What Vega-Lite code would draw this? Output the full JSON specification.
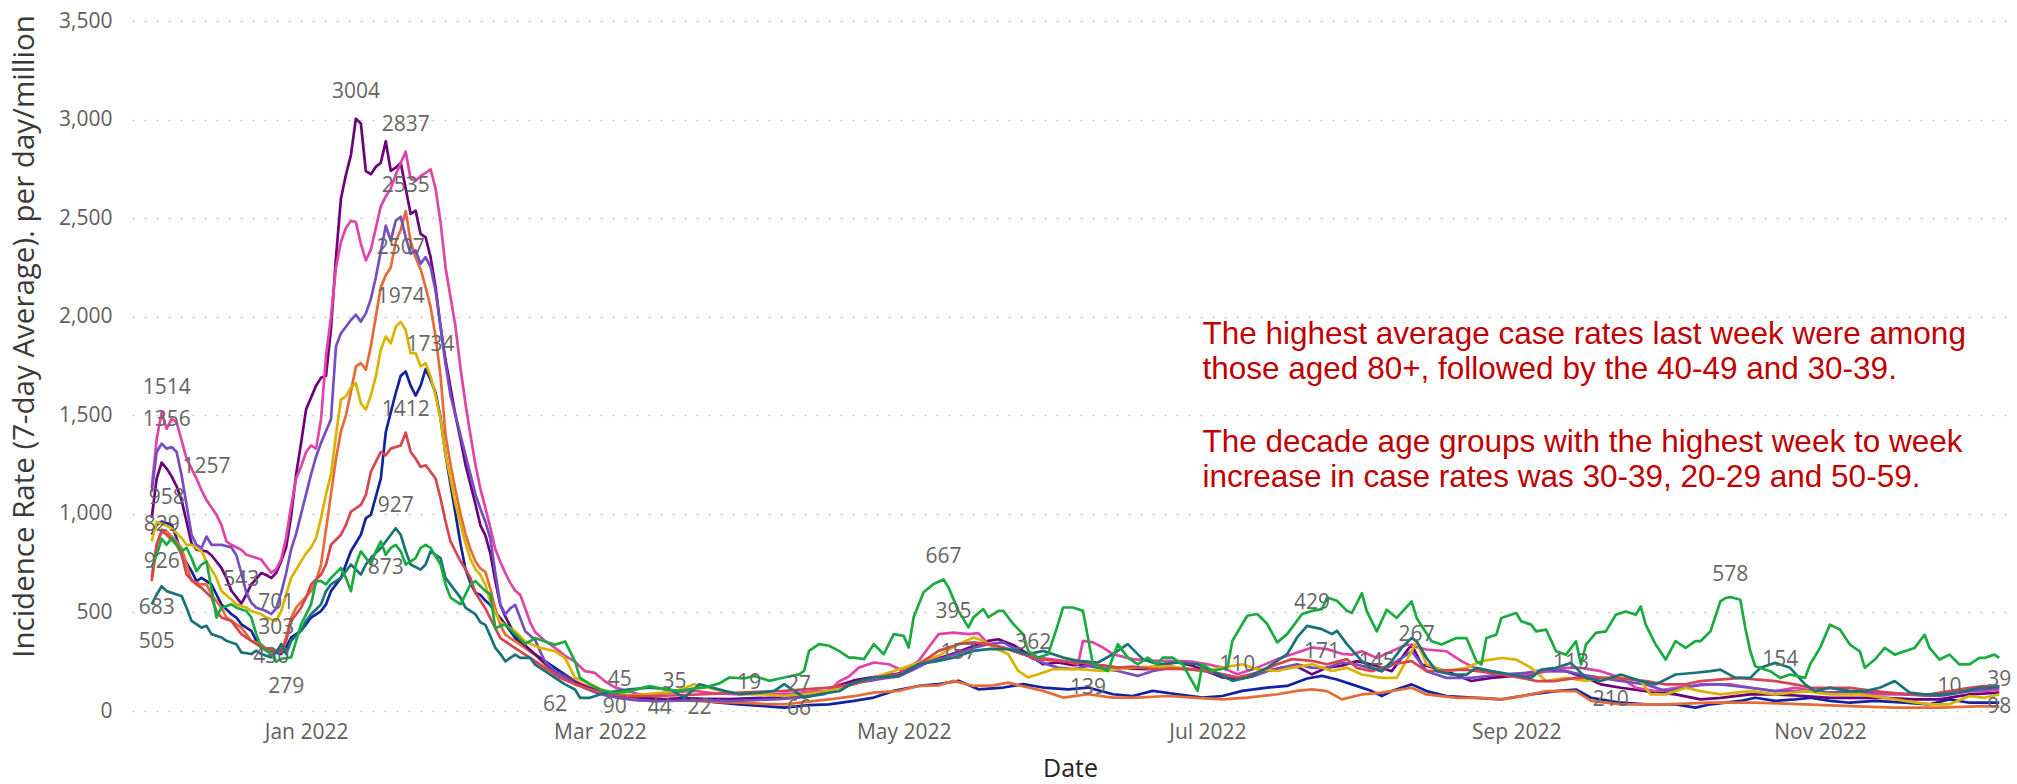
{
"$schema":"https://vega.github.io/schema/vega-lite/v6.json",
"width":1876,"height":690,
"autosize":{"type":"none"},
"padding":{"left":132,"top":21,"right":9,"bottom":73},
"background":"white",
"config":{"view":{"stroke":null},"font":"Open Sans"},
"datasets":{
"series":[
{"g":"0-9","t":"2021-12-01","v":894},{"g":"0-9","t":"2021-12-02","v":944},{"g":"0-9","t":"2021-12-03","v":961},{"g":"0-9","t":"2021-12-05","v":944},{"g":"0-9","t":"2021-12-06","v":877},{"g":"0-9","t":"2021-12-07","v":793},{"g":"0-9","t":"2021-12-09","v":709},{"g":"0-9","t":"2021-12-10","v":659},{"g":"0-9","t":"2021-12-11","v":675},{"g":"0-9","t":"2021-12-13","v":642},{"g":"0-9","t":"2021-12-14","v":591},{"g":"0-9","t":"2021-12-15","v":541},{"g":"0-9","t":"2021-12-17","v":491},{"g":"0-9","t":"2021-12-18","v":474},{"g":"0-9","t":"2021-12-19","v":440},{"g":"0-9","t":"2021-12-21","v":407},{"g":"0-9","t":"2021-12-22","v":356},{"g":"0-9","t":"2021-12-23","v":323},{"g":"0-9","t":"2021-12-25","v":306},{"g":"0-9","t":"2021-12-26","v":297},{"g":"0-9","t":"2021-12-27","v":289},{"g":"0-9","t":"2021-12-28","v":323},{"g":"0-9","t":"2021-12-29","v":373},{"g":"0-9","t":"2021-12-31","v":407},{"g":"0-9","t":"2022-01-01","v":440},{"g":"0-9","t":"2022-01-02","v":474},{"g":"0-9","t":"2022-01-04","v":507},{"g":"0-9","t":"2022-01-05","v":541},{"g":"0-9","t":"2022-01-06","v":608},{"g":"0-9","t":"2022-01-08","v":675},{"g":"0-9","t":"2022-01-09","v":743},{"g":"0-9","t":"2022-01-10","v":810},{"g":"0-9","t":"2022-01-12","v":894},{"g":"0-9","t":"2022-01-13","v":978},{"g":"0-9","t":"2022-01-14","v":995},{"g":"0-9","t":"2022-01-16","v":1179},{"g":"0-9","t":"2022-01-17","v":1414},{"g":"0-9","t":"2022-01-18","v":1515},{"g":"0-9","t":"2022-01-19","v":1613},{"g":"0-9","t":"2022-01-20","v":1700},{"g":"0-9","t":"2022-01-21","v":1722},{"g":"0-9","t":"2022-01-22","v":1650},{"g":"0-9","t":"2022-01-23","v":1600},{"g":"0-9","t":"2022-01-24","v":1650},{"g":"0-9","t":"2022-01-25","v":1734},{"g":"0-9","t":"2022-01-26","v":1680},{"g":"0-9","t":"2022-01-27","v":1613},{"g":"0-9","t":"2022-01-28","v":1487},{"g":"0-9","t":"2022-01-29","v":1300},{"g":"0-9","t":"2022-01-30","v":1150},{"g":"0-9","t":"2022-01-31","v":1000},{"g":"0-9","t":"2022-02-01","v":850},{"g":"0-9","t":"2022-02-02","v":720},{"g":"0-9","t":"2022-02-03","v":650},{"g":"0-9","t":"2022-02-04","v":600},{"g":"0-9","t":"2022-02-05","v":589},{"g":"0-9","t":"2022-02-06","v":560},{"g":"0-9","t":"2022-02-07","v":538},{"g":"0-9","t":"2022-02-08","v":500},{"g":"0-9","t":"2022-02-09","v":471},{"g":"0-9","t":"2022-02-10","v":440},{"g":"0-9","t":"2022-02-12","v":370},{"g":"0-9","t":"2022-02-14","v":320},{"g":"0-9","t":"2022-02-17","v":269},{"g":"0-9","t":"2022-02-20","v":219},{"g":"0-9","t":"2022-02-22","v":185},{"g":"0-9","t":"2022-02-25","v":135},{"g":"0-9","t":"2022-02-28","v":100},{"g":"0-9","t":"2022-03-03","v":80},{"g":"0-9","t":"2022-03-06","v":65},{"g":"0-9","t":"2022-03-09","v":55},{"g":"0-9","t":"2022-03-12","v":51},{"g":"0-9","t":"2022-03-16","v":55},{"g":"0-9","t":"2022-03-20","v":59},{"g":"0-9","t":"2022-03-24","v":45},{"g":"0-9","t":"2022-03-29","v":34},{"g":"0-9","t":"2022-04-03","v":25},{"g":"0-9","t":"2022-04-07","v":17},{"g":"0-9","t":"2022-04-12","v":30},{"g":"0-9","t":"2022-04-16","v":34},{"g":"0-9","t":"2022-04-21","v":51},{"g":"0-9","t":"2022-04-25","v":68},{"g":"0-9","t":"2022-04-29","v":102},{"g":"0-9","t":"2022-05-04","v":127},{"g":"0-9","t":"2022-05-08","v":136},{"g":"0-9","t":"2022-05-12","v":153},{"g":"0-9","t":"2022-05-16","v":110},{"g":"0-9","t":"2022-05-21","v":119},{"g":"0-9","t":"2022-05-25","v":136},{"g":"0-9","t":"2022-05-29","v":119},{"g":"0-9","t":"2022-06-03","v":110},{"g":"0-9","t":"2022-06-07","v":119},{"g":"0-9","t":"2022-06-12","v":85},{"g":"0-9","t":"2022-06-16","v":76},{"g":"0-9","t":"2022-06-20","v":102},{"g":"0-9","t":"2022-06-25","v":85},{"g":"0-9","t":"2022-06-30","v":68},{"g":"0-9","t":"2022-07-04","v":76},{"g":"0-9","t":"2022-07-08","v":102},{"g":"0-9","t":"2022-07-13","v":119},{"g":"0-9","t":"2022-07-17","v":127},{"g":"0-9","t":"2022-07-21","v":165},{"g":"0-9","t":"2022-07-24","v":178},{"g":"0-9","t":"2022-07-27","v":160},{"g":"0-9","t":"2022-07-30","v":135},{"g":"0-9","t":"2022-08-03","v":101},{"g":"0-9","t":"2022-08-05","v":76},{"g":"0-9","t":"2022-08-07","v":101},{"g":"0-9","t":"2022-08-11","v":135},{"g":"0-9","t":"2022-08-14","v":101},{"g":"0-9","t":"2022-08-18","v":76},{"g":"0-9","t":"2022-08-24","v":67},{"g":"0-9","t":"2022-08-29","v":59},{"g":"0-9","t":"2022-09-04","v":84},{"g":"0-9","t":"2022-09-09","v":101},{"g":"0-9","t":"2022-09-13","v":109},{"g":"0-9","t":"2022-09-16","v":67},{"g":"0-9","t":"2022-09-22","v":42},{"g":"0-9","t":"2022-09-27","v":34},{"g":"0-9","t":"2022-10-03","v":34},{"g":"0-9","t":"2022-10-07","v":17},{"g":"0-9","t":"2022-10-10","v":34},{"g":"0-9","t":"2022-10-16","v":51},{"g":"0-9","t":"2022-10-19","v":67},{"g":"0-9","t":"2022-10-23","v":51},{"g":"0-9","t":"2022-10-27","v":59},{"g":"0-9","t":"2022-10-30","v":67},{"g":"0-9","t":"2022-11-03","v":51},{"g":"0-9","t":"2022-11-07","v":42},{"g":"0-9","t":"2022-11-12","v":51},{"g":"0-9","t":"2022-11-18","v":42},{"g":"0-9","t":"2022-11-23","v":34},{"g":"0-9","t":"2022-11-27","v":59},{"g":"0-9","t":"2022-12-01","v":42},{"g":"0-9","t":"2022-12-07","v":42},
{"g":"10-19","t":"2021-12-01","v":680},{"g":"10-19","t":"2021-12-02","v":843},{"g":"10-19","t":"2021-12-03","v":920},{"g":"10-19","t":"2021-12-04","v":911},{"g":"10-19","t":"2021-12-06","v":860},{"g":"10-19","t":"2021-12-07","v":827},{"g":"10-19","t":"2021-12-08","v":743},{"g":"10-19","t":"2021-12-09","v":659},{"g":"10-19","t":"2021-12-11","v":642},{"g":"10-19","t":"2021-12-12","v":642},{"g":"10-19","t":"2021-12-13","v":591},{"g":"10-19","t":"2021-12-15","v":524},{"g":"10-19","t":"2021-12-16","v":474},{"g":"10-19","t":"2021-12-17","v":457},{"g":"10-19","t":"2021-12-19","v":423},{"g":"10-19","t":"2021-12-20","v":390},{"g":"10-19","t":"2021-12-21","v":356},{"g":"10-19","t":"2021-12-23","v":339},{"g":"10-19","t":"2021-12-24","v":314},{"g":"10-19","t":"2021-12-26","v":306},{"g":"10-19","t":"2021-12-27","v":306},{"g":"10-19","t":"2021-12-28","v":373},{"g":"10-19","t":"2021-12-29","v":474},{"g":"10-19","t":"2021-12-30","v":524},{"g":"10-19","t":"2022-01-01","v":580},{"g":"10-19","t":"2022-01-02","v":608},{"g":"10-19","t":"2022-01-03","v":659},{"g":"10-19","t":"2022-01-04","v":743},{"g":"10-19","t":"2022-01-05","v":920},{"g":"10-19","t":"2022-01-06","v":1100},{"g":"10-19","t":"2022-01-07","v":1280},{"g":"10-19","t":"2022-01-08","v":1420},{"g":"10-19","t":"2022-01-09","v":1500},{"g":"10-19","t":"2022-01-10","v":1620},{"g":"10-19","t":"2022-01-11","v":1748},{"g":"10-19","t":"2022-01-12","v":1764},{"g":"10-19","t":"2022-01-13","v":1731},{"g":"10-19","t":"2022-01-14","v":1850},{"g":"10-19","t":"2022-01-15","v":2000},{"g":"10-19","t":"2022-01-16","v":2150},{"g":"10-19","t":"2022-01-17","v":2210},{"g":"10-19","t":"2022-01-18","v":2250},{"g":"10-19","t":"2022-01-19","v":2380},{"g":"10-19","t":"2022-01-20","v":2440},{"g":"10-19","t":"2022-01-21","v":2535},{"g":"10-19","t":"2022-01-22","v":2380},{"g":"10-19","t":"2022-01-23","v":2300},{"g":"10-19","t":"2022-01-24","v":2240},{"g":"10-19","t":"2022-01-25","v":2150},{"g":"10-19","t":"2022-01-26","v":2050},{"g":"10-19","t":"2022-01-27","v":1900},{"g":"10-19","t":"2022-01-28","v":1700},{"g":"10-19","t":"2022-01-29","v":1400},{"g":"10-19","t":"2022-01-30","v":1250},{"g":"10-19","t":"2022-01-31","v":1120},{"g":"10-19","t":"2022-02-01","v":1000},{"g":"10-19","t":"2022-02-02","v":900},{"g":"10-19","t":"2022-02-03","v":820},{"g":"10-19","t":"2022-02-04","v":760},{"g":"10-19","t":"2022-02-05","v":723},{"g":"10-19","t":"2022-02-06","v":706},{"g":"10-19","t":"2022-02-07","v":620},{"g":"10-19","t":"2022-02-08","v":520},{"g":"10-19","t":"2022-02-09","v":437},{"g":"10-19","t":"2022-02-10","v":387},{"g":"10-19","t":"2022-02-12","v":353},{"g":"10-19","t":"2022-02-14","v":320},{"g":"10-19","t":"2022-02-16","v":286},{"g":"10-19","t":"2022-02-18","v":235},{"g":"10-19","t":"2022-02-20","v":200},{"g":"10-19","t":"2022-02-22","v":175},{"g":"10-19","t":"2022-02-24","v":151},{"g":"10-19","t":"2022-02-26","v":130},{"g":"10-19","t":"2022-02-28","v":110},{"g":"10-19","t":"2022-03-02","v":95},{"g":"10-19","t":"2022-03-05","v":80},{"g":"10-19","t":"2022-03-08","v":65},{"g":"10-19","t":"2022-03-11","v":59},{"g":"10-19","t":"2022-03-15","v":55},{"g":"10-19","t":"2022-03-20","v":51},{"g":"10-19","t":"2022-03-25","v":45},{"g":"10-19","t":"2022-03-29","v":42},{"g":"10-19","t":"2022-04-03","v":36},{"g":"10-19","t":"2022-04-07","v":34},{"g":"10-19","t":"2022-04-11","v":45},{"g":"10-19","t":"2022-04-16","v":59},{"g":"10-19","t":"2022-04-21","v":75},{"g":"10-19","t":"2022-04-25","v":93},{"g":"10-19","t":"2022-04-30","v":102},{"g":"10-19","t":"2022-05-04","v":127},{"g":"10-19","t":"2022-05-08","v":130},{"g":"10-19","t":"2022-05-11","v":153},{"g":"10-19","t":"2022-05-15","v":127},{"g":"10-19","t":"2022-05-19","v":130},{"g":"10-19","t":"2022-05-22","v":144},{"g":"10-19","t":"2022-05-26","v":119},{"g":"10-19","t":"2022-05-29","v":102},{"g":"10-19","t":"2022-06-02","v":68},{"g":"10-19","t":"2022-06-07","v":85},{"g":"10-19","t":"2022-06-12","v":68},{"g":"10-19","t":"2022-06-17","v":68},{"g":"10-19","t":"2022-06-23","v":76},{"g":"10-19","t":"2022-06-28","v":68},{"g":"10-19","t":"2022-07-04","v":59},{"g":"10-19","t":"2022-07-09","v":68},{"g":"10-19","t":"2022-07-15","v":85},{"g":"10-19","t":"2022-07-19","v":102},{"g":"10-19","t":"2022-07-22","v":110},{"g":"10-19","t":"2022-07-25","v":101},{"g":"10-19","t":"2022-07-28","v":59},{"g":"10-19","t":"2022-08-01","v":84},{"g":"10-19","t":"2022-08-05","v":93},{"g":"10-19","t":"2022-08-11","v":118},{"g":"10-19","t":"2022-08-14","v":84},{"g":"10-19","t":"2022-08-20","v":67},{"g":"10-19","t":"2022-08-25","v":67},{"g":"10-19","t":"2022-08-29","v":59},{"g":"10-19","t":"2022-09-04","v":84},{"g":"10-19","t":"2022-09-07","v":101},{"g":"10-19","t":"2022-09-13","v":101},{"g":"10-19","t":"2022-09-16","v":51},{"g":"10-19","t":"2022-09-22","v":34},{"g":"10-19","t":"2022-10-01","v":34},{"g":"10-19","t":"2022-10-10","v":42},{"g":"10-19","t":"2022-10-19","v":42},{"g":"10-19","t":"2022-10-29","v":34},{"g":"10-19","t":"2022-11-07","v":25},{"g":"10-19","t":"2022-11-16","v":17},{"g":"10-19","t":"2022-11-25","v":17},{"g":"10-19","t":"2022-12-04","v":25},{"g":"10-19","t":"2022-12-07","v":22},
{"g":"20-29","t":"2021-12-01","v":980},{"g":"20-29","t":"2021-12-02","v":1180},{"g":"20-29","t":"2021-12-03","v":1260},{"g":"20-29","t":"2021-12-04","v":1230},{"g":"20-29","t":"2021-12-05","v":1190},{"g":"20-29","t":"2021-12-06","v":1140},{"g":"20-29","t":"2021-12-07","v":1070},{"g":"20-29","t":"2021-12-08","v":960},{"g":"20-29","t":"2021-12-09","v":850},{"g":"20-29","t":"2021-12-10","v":818},{"g":"20-29","t":"2021-12-12","v":810},{"g":"20-29","t":"2021-12-13","v":790},{"g":"20-29","t":"2021-12-15","v":726},{"g":"20-29","t":"2021-12-16","v":675},{"g":"20-29","t":"2021-12-17","v":610},{"g":"20-29","t":"2021-12-19","v":545},{"g":"20-29","t":"2021-12-20","v":591},{"g":"20-29","t":"2021-12-21","v":642},{"g":"20-29","t":"2021-12-22","v":670},{"g":"20-29","t":"2021-12-23","v":700},{"g":"20-29","t":"2021-12-24","v":690},{"g":"20-29","t":"2021-12-25","v":675},{"g":"20-29","t":"2021-12-26","v":700},{"g":"20-29","t":"2021-12-27","v":760},{"g":"20-29","t":"2021-12-28","v":830},{"g":"20-29","t":"2021-12-29","v":990},{"g":"20-29","t":"2021-12-30","v":1200},{"g":"20-29","t":"2021-12-31","v":1360},{"g":"20-29","t":"2022-01-01","v":1530},{"g":"20-29","t":"2022-01-02","v":1590},{"g":"20-29","t":"2022-01-03","v":1650},{"g":"20-29","t":"2022-01-04","v":1690},{"g":"20-29","t":"2022-01-05","v":1700},{"g":"20-29","t":"2022-01-06","v":1940},{"g":"20-29","t":"2022-01-07","v":2300},{"g":"20-29","t":"2022-01-08","v":2600},{"g":"20-29","t":"2022-01-09","v":2720},{"g":"20-29","t":"2022-01-10","v":2820},{"g":"20-29","t":"2022-01-11","v":3004},{"g":"20-29","t":"2022-01-12","v":2980},{"g":"20-29","t":"2022-01-13","v":2739},{"g":"20-29","t":"2022-01-14","v":2723},{"g":"20-29","t":"2022-01-15","v":2760},{"g":"20-29","t":"2022-01-16","v":2781},{"g":"20-29","t":"2022-01-17","v":2890},{"g":"20-29","t":"2022-01-18","v":2740},{"g":"20-29","t":"2022-01-19","v":2756},{"g":"20-29","t":"2022-01-20","v":2781},{"g":"20-29","t":"2022-01-21","v":2650},{"g":"20-29","t":"2022-01-22","v":2521},{"g":"20-29","t":"2022-01-23","v":2538},{"g":"20-29","t":"2022-01-24","v":2420},{"g":"20-29","t":"2022-01-25","v":2403},{"g":"20-29","t":"2022-01-26","v":2302},{"g":"20-29","t":"2022-01-27","v":2150},{"g":"20-29","t":"2022-01-28","v":1950},{"g":"20-29","t":"2022-01-29","v":1780},{"g":"20-29","t":"2022-01-30","v":1640},{"g":"20-29","t":"2022-01-31","v":1500},{"g":"20-29","t":"2022-02-01","v":1380},{"g":"20-29","t":"2022-02-02","v":1250},{"g":"20-29","t":"2022-02-03","v":1150},{"g":"20-29","t":"2022-02-04","v":1050},{"g":"20-29","t":"2022-02-05","v":942},{"g":"20-29","t":"2022-02-06","v":891},{"g":"20-29","t":"2022-02-07","v":800},{"g":"20-29","t":"2022-02-08","v":660},{"g":"20-29","t":"2022-02-09","v":538},{"g":"20-29","t":"2022-02-10","v":480},{"g":"20-29","t":"2022-02-11","v":430},{"g":"20-29","t":"2022-02-12","v":390},{"g":"20-29","t":"2022-02-13","v":355},{"g":"20-29","t":"2022-02-15","v":310},{"g":"20-29","t":"2022-02-17","v":265},{"g":"20-29","t":"2022-02-19","v":220},{"g":"20-29","t":"2022-02-21","v":185},{"g":"20-29","t":"2022-02-23","v":160},{"g":"20-29","t":"2022-02-25","v":135},{"g":"20-29","t":"2022-02-27","v":115},{"g":"20-29","t":"2022-03-01","v":100},{"g":"20-29","t":"2022-03-04","v":85},{"g":"20-29","t":"2022-03-07","v":75},{"g":"20-29","t":"2022-03-10","v":65},{"g":"20-29","t":"2022-03-14","v":60},{"g":"20-29","t":"2022-03-18","v":65},{"g":"20-29","t":"2022-03-22","v":62},{"g":"20-29","t":"2022-03-27","v":60},{"g":"20-29","t":"2022-04-01","v":65},{"g":"20-29","t":"2022-04-06","v":68},{"g":"20-29","t":"2022-04-11","v":75},{"g":"20-29","t":"2022-04-15","v":90},{"g":"20-29","t":"2022-04-18","v":130},{"g":"20-29","t":"2022-04-21","v":155},{"g":"20-29","t":"2022-04-24","v":168},{"g":"20-29","t":"2022-04-27","v":180},{"g":"20-29","t":"2022-04-30","v":190},{"g":"20-29","t":"2022-05-03","v":225},{"g":"20-29","t":"2022-05-06","v":255},{"g":"20-29","t":"2022-05-09","v":275},{"g":"20-29","t":"2022-05-12","v":300},{"g":"20-29","t":"2022-05-15","v":330},{"g":"20-29","t":"2022-05-18","v":356},{"g":"20-29","t":"2022-05-20","v":364},{"g":"20-29","t":"2022-05-23","v":335},{"g":"20-29","t":"2022-05-26","v":288},{"g":"20-29","t":"2022-05-29","v":237},{"g":"20-29","t":"2022-06-01","v":246},{"g":"20-29","t":"2022-06-04","v":232},{"g":"20-29","t":"2022-06-07","v":237},{"g":"20-29","t":"2022-06-10","v":230},{"g":"20-29","t":"2022-06-13","v":220},{"g":"20-29","t":"2022-06-16","v":215},{"g":"20-29","t":"2022-06-19","v":212},{"g":"20-29","t":"2022-06-22","v":237},{"g":"20-29","t":"2022-06-25","v":246},{"g":"20-29","t":"2022-06-28","v":230},{"g":"20-29","t":"2022-07-01","v":200},{"g":"20-29","t":"2022-07-04","v":170},{"g":"20-29","t":"2022-07-07","v":161},{"g":"20-29","t":"2022-07-10","v":175},{"g":"20-29","t":"2022-07-13","v":203},{"g":"20-29","t":"2022-07-16","v":220},{"g":"20-29","t":"2022-07-19","v":225},{"g":"20-29","t":"2022-07-22","v":186},{"g":"20-29","t":"2022-07-25","v":220},{"g":"20-29","t":"2022-07-28","v":230},{"g":"20-29","t":"2022-07-31","v":253},{"g":"20-29","t":"2022-08-03","v":236},{"g":"20-29","t":"2022-08-07","v":202},{"g":"20-29","t":"2022-08-11","v":337},{"g":"20-29","t":"2022-08-13","v":236},{"g":"20-29","t":"2022-08-18","v":202},{"g":"20-29","t":"2022-08-23","v":152},{"g":"20-29","t":"2022-08-27","v":168},{"g":"20-29","t":"2022-08-31","v":177},{"g":"20-29","t":"2022-09-04","v":186},{"g":"20-29","t":"2022-09-07","v":202},{"g":"20-29","t":"2022-09-11","v":202},{"g":"20-29","t":"2022-09-15","v":168},{"g":"20-29","t":"2022-09-18","v":135},{"g":"20-29","t":"2022-09-22","v":118},{"g":"20-29","t":"2022-09-27","v":101},{"g":"20-29","t":"2022-10-03","v":84},{"g":"20-29","t":"2022-10-08","v":59},{"g":"20-29","t":"2022-10-12","v":67},{"g":"20-29","t":"2022-10-18","v":84},{"g":"20-29","t":"2022-10-23","v":84},{"g":"20-29","t":"2022-10-29","v":76},{"g":"20-29","t":"2022-11-03","v":67},{"g":"20-29","t":"2022-11-09","v":67},{"g":"20-29","t":"2022-11-14","v":67},{"g":"20-29","t":"2022-11-20","v":59},{"g":"20-29","t":"2022-11-25","v":59},{"g":"20-29","t":"2022-12-01","v":84},{"g":"20-29","t":"2022-12-07","v":93},
{"g":"30-39","t":"2021-12-01","v":1130},{"g":"30-39","t":"2021-12-02","v":1380},{"g":"30-39","t":"2021-12-03","v":1514},{"g":"30-39","t":"2021-12-04","v":1431},{"g":"30-39","t":"2021-12-05","v":1482},{"g":"30-39","t":"2021-12-06","v":1465},{"g":"30-39","t":"2021-12-07","v":1373},{"g":"30-39","t":"2021-12-08","v":1280},{"g":"30-39","t":"2021-12-10","v":1179},{"g":"30-39","t":"2021-12-11","v":1120},{"g":"30-39","t":"2021-12-12","v":1070},{"g":"30-39","t":"2021-12-14","v":995},{"g":"30-39","t":"2021-12-15","v":944},{"g":"30-39","t":"2021-12-16","v":860},{"g":"30-39","t":"2021-12-17","v":843},{"g":"30-39","t":"2021-12-19","v":818},{"g":"30-39","t":"2021-12-20","v":793},{"g":"30-39","t":"2021-12-21","v":785},{"g":"30-39","t":"2021-12-23","v":768},{"g":"30-39","t":"2021-12-24","v":734},{"g":"30-39","t":"2021-12-25","v":701},{"g":"30-39","t":"2021-12-26","v":720},{"g":"30-39","t":"2021-12-27","v":770},{"g":"30-39","t":"2021-12-28","v":880},{"g":"30-39","t":"2021-12-29","v":1040},{"g":"30-39","t":"2021-12-30","v":1180},{"g":"30-39","t":"2021-12-31","v":1240},{"g":"30-39","t":"2022-01-01","v":1314},{"g":"30-39","t":"2022-01-02","v":1347},{"g":"30-39","t":"2022-01-03","v":1331},{"g":"30-39","t":"2022-01-04","v":1480},{"g":"30-39","t":"2022-01-05","v":1800},{"g":"30-39","t":"2022-01-06","v":2000},{"g":"30-39","t":"2022-01-07","v":2250},{"g":"30-39","t":"2022-01-08","v":2380},{"g":"30-39","t":"2022-01-09","v":2450},{"g":"30-39","t":"2022-01-10","v":2487},{"g":"30-39","t":"2022-01-11","v":2480},{"g":"30-39","t":"2022-01-12","v":2370},{"g":"30-39","t":"2022-01-13","v":2286},{"g":"30-39","t":"2022-01-14","v":2340},{"g":"30-39","t":"2022-01-15","v":2450},{"g":"30-39","t":"2022-01-16","v":2560},{"g":"30-39","t":"2022-01-17","v":2610},{"g":"30-39","t":"2022-01-18","v":2650},{"g":"30-39","t":"2022-01-19","v":2720},{"g":"30-39","t":"2022-01-20","v":2780},{"g":"30-39","t":"2022-01-21","v":2837},{"g":"30-39","t":"2022-01-22","v":2700},{"g":"30-39","t":"2022-01-23","v":2690},{"g":"30-39","t":"2022-01-24","v":2714},{"g":"30-39","t":"2022-01-25","v":2730},{"g":"30-39","t":"2022-01-26","v":2748},{"g":"30-39","t":"2022-01-27","v":2650},{"g":"30-39","t":"2022-01-28","v":2480},{"g":"30-39","t":"2022-01-29","v":2250},{"g":"30-39","t":"2022-01-30","v":2100},{"g":"30-39","t":"2022-01-31","v":1950},{"g":"30-39","t":"2022-02-01","v":1740},{"g":"30-39","t":"2022-02-02","v":1560},{"g":"30-39","t":"2022-02-03","v":1400},{"g":"30-39","t":"2022-02-04","v":1250},{"g":"30-39","t":"2022-02-05","v":1127},{"g":"30-39","t":"2022-02-06","v":1030},{"g":"30-39","t":"2022-02-07","v":930},{"g":"30-39","t":"2022-02-08","v":820},{"g":"30-39","t":"2022-02-09","v":757},{"g":"30-39","t":"2022-02-10","v":700},{"g":"30-39","t":"2022-02-11","v":650},{"g":"30-39","t":"2022-02-12","v":610},{"g":"30-39","t":"2022-02-13","v":589},{"g":"30-39","t":"2022-02-14","v":520},{"g":"30-39","t":"2022-02-15","v":450},{"g":"30-39","t":"2022-02-16","v":400},{"g":"30-39","t":"2022-02-17","v":378},{"g":"30-39","t":"2022-02-18","v":355},{"g":"30-39","t":"2022-02-20","v":320},{"g":"30-39","t":"2022-02-22","v":280},{"g":"30-39","t":"2022-02-24","v":250},{"g":"30-39","t":"2022-02-26","v":202},{"g":"30-39","t":"2022-02-28","v":193},{"g":"30-39","t":"2022-03-02","v":151},{"g":"30-39","t":"2022-03-04","v":120},{"g":"30-39","t":"2022-03-06","v":105},{"g":"30-39","t":"2022-03-09","v":84},{"g":"30-39","t":"2022-03-12","v":85},{"g":"30-39","t":"2022-03-16","v":95},{"g":"30-39","t":"2022-03-20","v":102},{"g":"30-39","t":"2022-03-24","v":90},{"g":"30-39","t":"2022-03-28","v":85},{"g":"30-39","t":"2022-04-01","v":88},{"g":"30-39","t":"2022-04-05","v":85},{"g":"30-39","t":"2022-04-09","v":90},{"g":"30-39","t":"2022-04-13","v":100},{"g":"30-39","t":"2022-04-16","v":102},{"g":"30-39","t":"2022-04-18","v":150},{"g":"30-39","t":"2022-04-20","v":175},{"g":"30-39","t":"2022-04-22","v":220},{"g":"30-39","t":"2022-04-25","v":246},{"g":"30-39","t":"2022-04-28","v":237},{"g":"30-39","t":"2022-05-01","v":203},{"g":"30-39","t":"2022-05-04","v":254},{"g":"30-39","t":"2022-05-06","v":322},{"g":"30-39","t":"2022-05-08","v":390},{"g":"30-39","t":"2022-05-11","v":398},{"g":"30-39","t":"2022-05-14","v":390},{"g":"30-39","t":"2022-05-16","v":395},{"g":"30-39","t":"2022-05-18","v":339},{"g":"30-39","t":"2022-05-21","v":322},{"g":"30-39","t":"2022-05-25","v":288},{"g":"30-39","t":"2022-05-28","v":271},{"g":"30-39","t":"2022-06-02","v":254},{"g":"30-39","t":"2022-06-05","v":237},{"g":"30-39","t":"2022-06-06","v":356},{"g":"30-39","t":"2022-06-08","v":348},{"g":"30-39","t":"2022-06-10","v":322},{"g":"30-39","t":"2022-06-12","v":288},{"g":"30-39","t":"2022-06-16","v":263},{"g":"30-39","t":"2022-06-20","v":254},{"g":"30-39","t":"2022-06-24","v":254},{"g":"30-39","t":"2022-06-28","v":250},{"g":"30-39","t":"2022-07-01","v":237},{"g":"30-39","t":"2022-07-04","v":220},{"g":"30-39","t":"2022-07-07","v":186},{"g":"30-39","t":"2022-07-11","v":220},{"g":"30-39","t":"2022-07-15","v":263},{"g":"30-39","t":"2022-07-18","v":288},{"g":"30-39","t":"2022-07-22","v":322},{"g":"30-39","t":"2022-07-25","v":314},{"g":"30-39","t":"2022-07-28","v":290},{"g":"30-39","t":"2022-07-30","v":286},{"g":"30-39","t":"2022-08-01","v":303},{"g":"30-39","t":"2022-08-04","v":269},{"g":"30-39","t":"2022-08-07","v":303},{"g":"30-39","t":"2022-08-10","v":337},{"g":"30-39","t":"2022-08-14","v":312},{"g":"30-39","t":"2022-08-18","v":303},{"g":"30-39","t":"2022-08-21","v":253},{"g":"30-39","t":"2022-08-25","v":202},{"g":"30-39","t":"2022-08-29","v":185},{"g":"30-39","t":"2022-09-03","v":185},{"g":"30-39","t":"2022-09-07","v":202},{"g":"30-39","t":"2022-09-11","v":219},{"g":"30-39","t":"2022-09-14","v":219},{"g":"30-39","t":"2022-09-18","v":202},{"g":"30-39","t":"2022-09-22","v":168},{"g":"30-39","t":"2022-09-25","v":118},{"g":"30-39","t":"2022-09-29","v":101},{"g":"30-39","t":"2022-10-03","v":118},{"g":"30-39","t":"2022-10-06","v":126},{"g":"30-39","t":"2022-10-10","v":135},{"g":"30-39","t":"2022-10-14","v":135},{"g":"30-39","t":"2022-10-18","v":118},{"g":"30-39","t":"2022-10-23","v":101},{"g":"30-39","t":"2022-10-27","v":118},{"g":"30-39","t":"2022-10-31","v":101},{"g":"30-39","t":"2022-11-03","v":118},{"g":"30-39","t":"2022-11-07","v":101},{"g":"30-39","t":"2022-11-12","v":84},{"g":"30-39","t":"2022-11-18","v":84},{"g":"30-39","t":"2022-11-23","v":76},{"g":"30-39","t":"2022-11-27","v":84},{"g":"30-39","t":"2022-11-30","v":101},{"g":"30-39","t":"2022-12-04","v":101},{"g":"30-39","t":"2022-12-07","v":109},
{"g":"40-49","t":"2021-12-01","v":1112},{"g":"40-49","t":"2021-12-02","v":1314},{"g":"40-49","t":"2021-12-03","v":1356},{"g":"40-49","t":"2021-12-04","v":1331},{"g":"40-49","t":"2021-12-05","v":1339},{"g":"40-49","t":"2021-12-06","v":1314},{"g":"40-49","t":"2021-12-07","v":1196},{"g":"40-49","t":"2021-12-08","v":1045},{"g":"40-49","t":"2021-12-09","v":894},{"g":"40-49","t":"2021-12-10","v":843},{"g":"40-49","t":"2021-12-11","v":827},{"g":"40-49","t":"2021-12-12","v":885},{"g":"40-49","t":"2021-12-13","v":843},{"g":"40-49","t":"2021-12-15","v":843},{"g":"40-49","t":"2021-12-17","v":830},{"g":"40-49","t":"2021-12-18","v":790},{"g":"40-49","t":"2021-12-19","v":700},{"g":"40-49","t":"2021-12-20","v":600},{"g":"40-49","t":"2021-12-21","v":550},{"g":"40-49","t":"2021-12-22","v":524},{"g":"40-49","t":"2021-12-24","v":507},{"g":"40-49","t":"2021-12-25","v":491},{"g":"40-49","t":"2021-12-26","v":520},{"g":"40-49","t":"2021-12-27","v":600},{"g":"40-49","t":"2021-12-28","v":700},{"g":"40-49","t":"2021-12-29","v":820},{"g":"40-49","t":"2021-12-30","v":900},{"g":"40-49","t":"2021-12-31","v":1000},{"g":"40-49","t":"2022-01-01","v":1100},{"g":"40-49","t":"2022-01-02","v":1200},{"g":"40-49","t":"2022-01-03","v":1290},{"g":"40-49","t":"2022-01-04","v":1360},{"g":"40-49","t":"2022-01-05","v":1420},{"g":"40-49","t":"2022-01-06","v":1480},{"g":"40-49","t":"2022-01-07","v":1850},{"g":"40-49","t":"2022-01-08","v":1916},{"g":"40-49","t":"2022-01-09","v":1949},{"g":"40-49","t":"2022-01-10","v":1983},{"g":"40-49","t":"2022-01-11","v":2010},{"g":"40-49","t":"2022-01-12","v":1975},{"g":"40-49","t":"2022-01-13","v":2017},{"g":"40-49","t":"2022-01-14","v":2090},{"g":"40-49","t":"2022-01-15","v":2200},{"g":"40-49","t":"2022-01-16","v":2330},{"g":"40-49","t":"2022-01-17","v":2462},{"g":"40-49","t":"2022-01-18","v":2386},{"g":"40-49","t":"2022-01-19","v":2487},{"g":"40-49","t":"2022-01-20","v":2507},{"g":"40-49","t":"2022-01-21","v":2403},{"g":"40-49","t":"2022-01-22","v":2319},{"g":"40-49","t":"2022-01-23","v":2336},{"g":"40-49","t":"2022-01-24","v":2269},{"g":"40-49","t":"2022-01-25","v":2302},{"g":"40-49","t":"2022-01-26","v":2252},{"g":"40-49","t":"2022-01-27","v":2130},{"g":"40-49","t":"2022-01-28","v":1950},{"g":"40-49","t":"2022-01-29","v":1760},{"g":"40-49","t":"2022-01-30","v":1600},{"g":"40-49","t":"2022-01-31","v":1500},{"g":"40-49","t":"2022-02-01","v":1400},{"g":"40-49","t":"2022-02-02","v":1300},{"g":"40-49","t":"2022-02-03","v":1200},{"g":"40-49","t":"2022-02-04","v":1100},{"g":"40-49","t":"2022-02-05","v":1026},{"g":"40-49","t":"2022-02-06","v":960},{"g":"40-49","t":"2022-02-07","v":875},{"g":"40-49","t":"2022-02-08","v":700},{"g":"40-49","t":"2022-02-09","v":540},{"g":"40-49","t":"2022-02-10","v":490},{"g":"40-49","t":"2022-02-11","v":521},{"g":"40-49","t":"2022-02-12","v":538},{"g":"40-49","t":"2022-02-13","v":471},{"g":"40-49","t":"2022-02-14","v":404},{"g":"40-49","t":"2022-02-16","v":360},{"g":"40-49","t":"2022-02-17","v":303},{"g":"40-49","t":"2022-02-18","v":250},{"g":"40-49","t":"2022-02-20","v":200},{"g":"40-49","t":"2022-02-22","v":170},{"g":"40-49","t":"2022-02-24","v":140},{"g":"40-49","t":"2022-02-26","v":115},{"g":"40-49","t":"2022-02-28","v":95},{"g":"40-49","t":"2022-03-02","v":80},{"g":"40-49","t":"2022-03-05","v":65},{"g":"40-49","t":"2022-03-08","v":55},{"g":"40-49","t":"2022-03-12","v":50},{"g":"40-49","t":"2022-03-17","v":52},{"g":"40-49","t":"2022-03-22","v":55},{"g":"40-49","t":"2022-03-27","v":50},{"g":"40-49","t":"2022-04-01","v":55},{"g":"40-49","t":"2022-04-06","v":60},{"g":"40-49","t":"2022-04-11","v":70},{"g":"40-49","t":"2022-04-15","v":85},{"g":"40-49","t":"2022-04-18","v":120},{"g":"40-49","t":"2022-04-21","v":140},{"g":"40-49","t":"2022-04-24","v":153},{"g":"40-49","t":"2022-04-27","v":165},{"g":"40-49","t":"2022-04-30","v":175},{"g":"40-49","t":"2022-05-03","v":210},{"g":"40-49","t":"2022-05-06","v":250},{"g":"40-49","t":"2022-05-09","v":270},{"g":"40-49","t":"2022-05-12","v":295},{"g":"40-49","t":"2022-05-15","v":320},{"g":"40-49","t":"2022-05-18","v":339},{"g":"40-49","t":"2022-05-21","v":348},{"g":"40-49","t":"2022-05-24","v":305},{"g":"40-49","t":"2022-05-27","v":265},{"g":"40-49","t":"2022-05-30","v":235},{"g":"40-49","t":"2022-06-01","v":220},{"g":"40-49","t":"2022-06-04","v":212},{"g":"40-49","t":"2022-06-07","v":229},{"g":"40-49","t":"2022-06-10","v":215},{"g":"40-49","t":"2022-06-13","v":203},{"g":"40-49","t":"2022-06-17","v":178},{"g":"40-49","t":"2022-06-20","v":203},{"g":"40-49","t":"2022-06-24","v":220},{"g":"40-49","t":"2022-06-28","v":212},{"g":"40-49","t":"2022-07-01","v":200},{"g":"40-49","t":"2022-07-04","v":186},{"g":"40-49","t":"2022-07-07","v":170},{"g":"40-49","t":"2022-07-10","v":178},{"g":"40-49","t":"2022-07-13","v":203},{"g":"40-49","t":"2022-07-16","v":220},{"g":"40-49","t":"2022-07-19","v":237},{"g":"40-49","t":"2022-07-22","v":219},{"g":"40-49","t":"2022-07-25","v":219},{"g":"40-49","t":"2022-07-28","v":246},{"g":"40-49","t":"2022-07-31","v":236},{"g":"40-49","t":"2022-08-05","v":202},{"g":"40-49","t":"2022-08-11","v":303},{"g":"40-49","t":"2022-08-14","v":202},{"g":"40-49","t":"2022-08-18","v":168},{"g":"40-49","t":"2022-08-23","v":168},{"g":"40-49","t":"2022-08-29","v":185},{"g":"40-49","t":"2022-09-03","v":194},{"g":"40-49","t":"2022-09-07","v":210},{"g":"40-49","t":"2022-09-11","v":202},{"g":"40-49","t":"2022-09-14","v":185},{"g":"40-49","t":"2022-09-18","v":168},{"g":"40-49","t":"2022-09-22","v":152},{"g":"40-49","t":"2022-09-27","v":135},{"g":"40-49","t":"2022-10-01","v":101},{"g":"40-49","t":"2022-10-05","v":118},{"g":"40-49","t":"2022-10-08","v":135},{"g":"40-49","t":"2022-10-12","v":135},{"g":"40-49","t":"2022-10-18","v":118},{"g":"40-49","t":"2022-10-23","v":101},{"g":"40-49","t":"2022-10-29","v":101},{"g":"40-49","t":"2022-11-03","v":93},{"g":"40-49","t":"2022-11-09","v":101},{"g":"40-49","t":"2022-11-14","v":93},{"g":"40-49","t":"2022-11-20","v":84},{"g":"40-49","t":"2022-11-25","v":76},{"g":"40-49","t":"2022-12-01","v":101},{"g":"40-49","t":"2022-12-07","v":118},
{"g":"50-59","t":"2021-12-01","v":860},{"g":"50-59","t":"2021-12-02","v":958},{"g":"50-59","t":"2021-12-03","v":950},{"g":"50-59","t":"2021-12-04","v":940},{"g":"50-59","t":"2021-12-05","v":927},{"g":"50-59","t":"2021-12-07","v":877},{"g":"50-59","t":"2021-12-08","v":843},{"g":"50-59","t":"2021-12-09","v":843},{"g":"50-59","t":"2021-12-11","v":810},{"g":"50-59","t":"2021-12-12","v":759},{"g":"50-59","t":"2021-12-14","v":675},{"g":"50-59","t":"2021-12-15","v":608},{"g":"50-59","t":"2021-12-17","v":566},{"g":"50-59","t":"2021-12-18","v":541},{"g":"50-59","t":"2021-12-20","v":524},{"g":"50-59","t":"2021-12-21","v":507},{"g":"50-59","t":"2021-12-23","v":491},{"g":"50-59","t":"2021-12-24","v":474},{"g":"50-59","t":"2021-12-25","v":465},{"g":"50-59","t":"2021-12-26","v":457},{"g":"50-59","t":"2021-12-27","v":507},{"g":"50-59","t":"2021-12-28","v":591},{"g":"50-59","t":"2021-12-29","v":675},{"g":"50-59","t":"2021-12-31","v":759},{"g":"50-59","t":"2022-01-01","v":800},{"g":"50-59","t":"2022-01-02","v":830},{"g":"50-59","t":"2022-01-03","v":877},{"g":"50-59","t":"2022-01-04","v":978},{"g":"50-59","t":"2022-01-05","v":1100},{"g":"50-59","t":"2022-01-06","v":1200},{"g":"50-59","t":"2022-01-07","v":1400},{"g":"50-59","t":"2022-01-08","v":1580},{"g":"50-59","t":"2022-01-09","v":1596},{"g":"50-59","t":"2022-01-10","v":1640},{"g":"50-59","t":"2022-01-11","v":1664},{"g":"50-59","t":"2022-01-12","v":1560},{"g":"50-59","t":"2022-01-13","v":1529},{"g":"50-59","t":"2022-01-14","v":1600},{"g":"50-59","t":"2022-01-15","v":1697},{"g":"50-59","t":"2022-01-16","v":1832},{"g":"50-59","t":"2022-01-17","v":1899},{"g":"50-59","t":"2022-01-18","v":1865},{"g":"50-59","t":"2022-01-19","v":1949},{"g":"50-59","t":"2022-01-20","v":1974},{"g":"50-59","t":"2022-01-21","v":1933},{"g":"50-59","t":"2022-01-22","v":1815},{"g":"50-59","t":"2022-01-23","v":1815},{"g":"50-59","t":"2022-01-24","v":1748},{"g":"50-59","t":"2022-01-25","v":1764},{"g":"50-59","t":"2022-01-26","v":1697},{"g":"50-59","t":"2022-01-27","v":1600},{"g":"50-59","t":"2022-01-28","v":1480},{"g":"50-59","t":"2022-01-29","v":1300},{"g":"50-59","t":"2022-01-30","v":1180},{"g":"50-59","t":"2022-01-31","v":1050},{"g":"50-59","t":"2022-02-01","v":950},{"g":"50-59","t":"2022-02-02","v":850},{"g":"50-59","t":"2022-02-03","v":770},{"g":"50-59","t":"2022-02-04","v":720},{"g":"50-59","t":"2022-02-05","v":690},{"g":"50-59","t":"2022-02-06","v":640},{"g":"50-59","t":"2022-02-07","v":555},{"g":"50-59","t":"2022-02-08","v":500},{"g":"50-59","t":"2022-02-09","v":454},{"g":"50-59","t":"2022-02-10","v":437},{"g":"50-59","t":"2022-02-12","v":404},{"g":"50-59","t":"2022-02-14","v":353},{"g":"50-59","t":"2022-02-17","v":320},{"g":"50-59","t":"2022-02-20","v":303},{"g":"50-59","t":"2022-02-22","v":269},{"g":"50-59","t":"2022-02-24","v":168},{"g":"50-59","t":"2022-02-26","v":151},{"g":"50-59","t":"2022-02-28","v":125},{"g":"50-59","t":"2022-03-02","v":100},{"g":"50-59","t":"2022-03-05","v":85},{"g":"50-59","t":"2022-03-08","v":80},{"g":"50-59","t":"2022-03-12","v":90},{"g":"50-59","t":"2022-03-16","v":100},{"g":"50-59","t":"2022-03-20","v":136},{"g":"50-59","t":"2022-03-24","v":110},{"g":"50-59","t":"2022-03-29","v":85},{"g":"50-59","t":"2022-04-03","v":85},{"g":"50-59","t":"2022-04-07","v":76},{"g":"50-59","t":"2022-04-11","v":85},{"g":"50-59","t":"2022-04-16","v":102},{"g":"50-59","t":"2022-04-21","v":136},{"g":"50-59","t":"2022-04-25","v":170},{"g":"50-59","t":"2022-04-29","v":203},{"g":"50-59","t":"2022-05-04","v":246},{"g":"50-59","t":"2022-05-08","v":280},{"g":"50-59","t":"2022-05-12","v":339},{"g":"50-59","t":"2022-05-15","v":373},{"g":"50-59","t":"2022-05-17","v":356},{"g":"50-59","t":"2022-05-19","v":322},{"g":"50-59","t":"2022-05-22","v":288},{"g":"50-59","t":"2022-05-24","v":203},{"g":"50-59","t":"2022-05-26","v":170},{"g":"50-59","t":"2022-05-28","v":186},{"g":"50-59","t":"2022-05-31","v":212},{"g":"50-59","t":"2022-06-05","v":212},{"g":"50-59","t":"2022-06-10","v":203},{"g":"50-59","t":"2022-06-16","v":220},{"g":"50-59","t":"2022-06-23","v":229},{"g":"50-59","t":"2022-06-30","v":203},{"g":"50-59","t":"2022-07-04","v":220},{"g":"50-59","t":"2022-07-08","v":237},{"g":"50-59","t":"2022-07-11","v":212},{"g":"50-59","t":"2022-07-15","v":203},{"g":"50-59","t":"2022-07-18","v":220},{"g":"50-59","t":"2022-07-22","v":237},{"g":"50-59","t":"2022-07-26","v":203},{"g":"50-59","t":"2022-07-29","v":219},{"g":"50-59","t":"2022-08-01","v":185},{"g":"50-59","t":"2022-08-05","v":168},{"g":"50-59","t":"2022-08-08","v":168},{"g":"50-59","t":"2022-08-11","v":303},{"g":"50-59","t":"2022-08-12","v":354},{"g":"50-59","t":"2022-08-14","v":236},{"g":"50-59","t":"2022-08-18","v":202},{"g":"50-59","t":"2022-08-22","v":219},{"g":"50-59","t":"2022-08-25","v":253},{"g":"50-59","t":"2022-08-29","v":269},{"g":"50-59","t":"2022-09-01","v":261},{"g":"50-59","t":"2022-09-04","v":219},{"g":"50-59","t":"2022-09-07","v":152},{"g":"50-59","t":"2022-09-11","v":168},{"g":"50-59","t":"2022-09-15","v":152},{"g":"50-59","t":"2022-09-18","v":168},{"g":"50-59","t":"2022-09-22","v":168},{"g":"50-59","t":"2022-09-26","v":152},{"g":"50-59","t":"2022-09-28","v":84},{"g":"50-59","t":"2022-10-01","v":84},{"g":"50-59","t":"2022-10-05","v":118},{"g":"50-59","t":"2022-10-08","v":101},{"g":"50-59","t":"2022-10-12","v":84},{"g":"50-59","t":"2022-10-18","v":101},{"g":"50-59","t":"2022-10-23","v":84},{"g":"50-59","t":"2022-10-29","v":101},{"g":"50-59","t":"2022-11-03","v":84},{"g":"50-59","t":"2022-11-09","v":84},{"g":"50-59","t":"2022-11-14","v":67},{"g":"50-59","t":"2022-11-18","v":51},{"g":"50-59","t":"2022-11-23","v":34},{"g":"50-59","t":"2022-11-27","v":34},{"g":"50-59","t":"2022-12-01","v":76},{"g":"50-59","t":"2022-12-04","v":67},{"g":"50-59","t":"2022-12-07","v":84},
{"g":"60-69","t":"2021-12-01","v":659},{"g":"60-69","t":"2021-12-02","v":843},{"g":"60-69","t":"2021-12-03","v":911},{"g":"60-69","t":"2021-12-04","v":894},{"g":"60-69","t":"2021-12-06","v":843},{"g":"60-69","t":"2021-12-07","v":793},{"g":"60-69","t":"2021-12-08","v":692},{"g":"60-69","t":"2021-12-10","v":642},{"g":"60-69","t":"2021-12-11","v":625},{"g":"60-69","t":"2021-12-13","v":575},{"g":"60-69","t":"2021-12-14","v":507},{"g":"60-69","t":"2021-12-15","v":474},{"g":"60-69","t":"2021-12-17","v":457},{"g":"60-69","t":"2021-12-18","v":423},{"g":"60-69","t":"2021-12-19","v":390},{"g":"60-69","t":"2021-12-21","v":356},{"g":"60-69","t":"2021-12-22","v":339},{"g":"60-69","t":"2021-12-23","v":323},{"g":"60-69","t":"2021-12-25","v":314},{"g":"60-69","t":"2021-12-26","v":306},{"g":"60-69","t":"2021-12-27","v":297},{"g":"60-69","t":"2021-12-28","v":356},{"g":"60-69","t":"2021-12-29","v":457},{"g":"60-69","t":"2021-12-31","v":524},{"g":"60-69","t":"2022-01-01","v":575},{"g":"60-69","t":"2022-01-02","v":642},{"g":"60-69","t":"2022-01-04","v":692},{"g":"60-69","t":"2022-01-05","v":743},{"g":"60-69","t":"2022-01-06","v":843},{"g":"60-69","t":"2022-01-08","v":894},{"g":"60-69","t":"2022-01-09","v":944},{"g":"60-69","t":"2022-01-10","v":1011},{"g":"60-69","t":"2022-01-12","v":1045},{"g":"60-69","t":"2022-01-13","v":1096},{"g":"60-69","t":"2022-01-14","v":1213},{"g":"60-69","t":"2022-01-16","v":1314},{"g":"60-69","t":"2022-01-17","v":1297},{"g":"60-69","t":"2022-01-18","v":1331},{"g":"60-69","t":"2022-01-20","v":1347},{"g":"60-69","t":"2022-01-21","v":1412},{"g":"60-69","t":"2022-01-22","v":1314},{"g":"60-69","t":"2022-01-23","v":1280},{"g":"60-69","t":"2022-01-24","v":1238},{"g":"60-69","t":"2022-01-25","v":1247},{"g":"60-69","t":"2022-01-27","v":1179},{"g":"60-69","t":"2022-01-28","v":1079},{"g":"60-69","t":"2022-01-29","v":961},{"g":"60-69","t":"2022-01-30","v":860},{"g":"60-69","t":"2022-01-31","v":810},{"g":"60-69","t":"2022-02-01","v":760},{"g":"60-69","t":"2022-02-02","v":720},{"g":"60-69","t":"2022-02-03","v":675},{"g":"60-69","t":"2022-02-04","v":600},{"g":"60-69","t":"2022-02-05","v":560},{"g":"60-69","t":"2022-02-06","v":520},{"g":"60-69","t":"2022-02-07","v":470},{"g":"60-69","t":"2022-02-08","v":420},{"g":"60-69","t":"2022-02-09","v":370},{"g":"60-69","t":"2022-02-11","v":336},{"g":"60-69","t":"2022-02-13","v":303},{"g":"60-69","t":"2022-02-15","v":269},{"g":"60-69","t":"2022-02-18","v":219},{"g":"60-69","t":"2022-02-21","v":168},{"g":"60-69","t":"2022-02-24","v":135},{"g":"60-69","t":"2022-02-27","v":110},{"g":"60-69","t":"2022-03-02","v":90},{"g":"60-69","t":"2022-03-05","v":80},{"g":"60-69","t":"2022-03-08","v":75},{"g":"60-69","t":"2022-03-12","v":76},{"g":"60-69","t":"2022-03-17","v":80},{"g":"60-69","t":"2022-03-22","v":85},{"g":"60-69","t":"2022-03-29","v":93},{"g":"60-69","t":"2022-04-07","v":102},{"g":"60-69","t":"2022-04-16","v":119},{"g":"60-69","t":"2022-04-21","v":136},{"g":"60-69","t":"2022-04-25","v":170},{"g":"60-69","t":"2022-04-30","v":186},{"g":"60-69","t":"2022-05-04","v":237},{"g":"60-69","t":"2022-05-08","v":305},{"g":"60-69","t":"2022-05-12","v":339},{"g":"60-69","t":"2022-05-15","v":348},{"g":"60-69","t":"2022-05-18","v":339},{"g":"60-69","t":"2022-05-21","v":322},{"g":"60-69","t":"2022-05-25","v":288},{"g":"60-69","t":"2022-05-28","v":263},{"g":"60-69","t":"2022-06-01","v":254},{"g":"60-69","t":"2022-06-05","v":246},{"g":"60-69","t":"2022-06-08","v":237},{"g":"60-69","t":"2022-06-13","v":220},{"g":"60-69","t":"2022-06-16","v":225},{"g":"60-69","t":"2022-06-20","v":212},{"g":"60-69","t":"2022-06-24","v":215},{"g":"60-69","t":"2022-06-28","v":210},{"g":"60-69","t":"2022-07-01","v":203},{"g":"60-69","t":"2022-07-04","v":186},{"g":"60-69","t":"2022-07-07","v":170},{"g":"60-69","t":"2022-07-11","v":195},{"g":"60-69","t":"2022-07-15","v":237},{"g":"60-69","t":"2022-07-18","v":263},{"g":"60-69","t":"2022-07-22","v":254},{"g":"60-69","t":"2022-07-25","v":237},{"g":"60-69","t":"2022-07-29","v":263},{"g":"60-69","t":"2022-07-31","v":219},{"g":"60-69","t":"2022-08-03","v":202},{"g":"60-69","t":"2022-08-07","v":236},{"g":"60-69","t":"2022-08-11","v":253},{"g":"60-69","t":"2022-08-14","v":202},{"g":"60-69","t":"2022-08-22","v":210},{"g":"60-69","t":"2022-08-29","v":185},{"g":"60-69","t":"2022-09-02","v":168},{"g":"60-69","t":"2022-09-05","v":152},{"g":"60-69","t":"2022-09-09","v":152},{"g":"60-69","t":"2022-09-13","v":168},{"g":"60-69","t":"2022-09-20","v":168},{"g":"60-69","t":"2022-09-24","v":160},{"g":"60-69","t":"2022-09-27","v":152},{"g":"60-69","t":"2022-10-01","v":135},{"g":"60-69","t":"2022-10-05","v":135},{"g":"60-69","t":"2022-10-08","v":152},{"g":"60-69","t":"2022-10-16","v":168},{"g":"60-69","t":"2022-10-19","v":160},{"g":"60-69","t":"2022-10-23","v":152},{"g":"60-69","t":"2022-10-27","v":135},{"g":"60-69","t":"2022-10-30","v":118},{"g":"60-69","t":"2022-11-07","v":118},{"g":"60-69","t":"2022-11-12","v":101},{"g":"60-69","t":"2022-11-18","v":84},{"g":"60-69","t":"2022-11-23","v":84},{"g":"60-69","t":"2022-11-27","v":101},{"g":"60-69","t":"2022-12-01","v":118},{"g":"60-69","t":"2022-12-04","v":126},{"g":"60-69","t":"2022-12-07","v":126},
{"g":"70-79","t":"2021-12-01","v":541},{"g":"70-79","t":"2021-12-02","v":591},{"g":"70-79","t":"2021-12-03","v":633},{"g":"70-79","t":"2021-12-04","v":608},{"g":"70-79","t":"2021-12-06","v":591},{"g":"70-79","t":"2021-12-07","v":583},{"g":"70-79","t":"2021-12-08","v":524},{"g":"70-79","t":"2021-12-09","v":457},{"g":"70-79","t":"2021-12-11","v":423},{"g":"70-79","t":"2021-12-12","v":432},{"g":"70-79","t":"2021-12-13","v":390},{"g":"70-79","t":"2021-12-15","v":373},{"g":"70-79","t":"2021-12-16","v":356},{"g":"70-79","t":"2021-12-18","v":339},{"g":"70-79","t":"2021-12-19","v":297},{"g":"70-79","t":"2021-12-21","v":289},{"g":"70-79","t":"2021-12-22","v":306},{"g":"70-79","t":"2021-12-23","v":289},{"g":"70-79","t":"2021-12-25","v":272},{"g":"70-79","t":"2021-12-26","v":297},{"g":"70-79","t":"2021-12-27","v":339},{"g":"70-79","t":"2021-12-28","v":289},{"g":"70-79","t":"2021-12-29","v":356},{"g":"70-79","t":"2021-12-31","v":407},{"g":"70-79","t":"2022-01-01","v":457},{"g":"70-79","t":"2022-01-02","v":491},{"g":"70-79","t":"2022-01-04","v":541},{"g":"70-79","t":"2022-01-05","v":608},{"g":"70-79","t":"2022-01-06","v":642},{"g":"70-79","t":"2022-01-08","v":675},{"g":"70-79","t":"2022-01-09","v":709},{"g":"70-79","t":"2022-01-10","v":743},{"g":"70-79","t":"2022-01-12","v":692},{"g":"70-79","t":"2022-01-13","v":743},{"g":"70-79","t":"2022-01-14","v":776},{"g":"70-79","t":"2022-01-16","v":827},{"g":"70-79","t":"2022-01-17","v":860},{"g":"70-79","t":"2022-01-19","v":927},{"g":"70-79","t":"2022-01-20","v":894},{"g":"70-79","t":"2022-01-21","v":810},{"g":"70-79","t":"2022-01-22","v":743},{"g":"70-79","t":"2022-01-24","v":717},{"g":"70-79","t":"2022-01-25","v":743},{"g":"70-79","t":"2022-01-26","v":810},{"g":"70-79","t":"2022-01-28","v":776},{"g":"70-79","t":"2022-01-29","v":675},{"g":"70-79","t":"2022-01-31","v":608},{"g":"70-79","t":"2022-02-01","v":575},{"g":"70-79","t":"2022-02-02","v":524},{"g":"70-79","t":"2022-02-04","v":491},{"g":"70-79","t":"2022-02-05","v":450},{"g":"70-79","t":"2022-02-06","v":437},{"g":"70-79","t":"2022-02-07","v":380},{"g":"70-79","t":"2022-02-08","v":320},{"g":"70-79","t":"2022-02-09","v":290},{"g":"70-79","t":"2022-02-10","v":252},{"g":"70-79","t":"2022-02-12","v":286},{"g":"70-79","t":"2022-02-13","v":269},{"g":"70-79","t":"2022-02-15","v":269},{"g":"70-79","t":"2022-02-16","v":235},{"g":"70-79","t":"2022-02-18","v":202},{"g":"70-79","t":"2022-02-20","v":168},{"g":"70-79","t":"2022-02-22","v":135},{"g":"70-79","t":"2022-02-24","v":109},{"g":"70-79","t":"2022-02-25","v":67},{"g":"70-79","t":"2022-02-27","v":67},{"g":"70-79","t":"2022-03-01","v":84},{"g":"70-79","t":"2022-03-04","v":100},{"g":"70-79","t":"2022-03-07","v":110},{"g":"70-79","t":"2022-03-11","v":119},{"g":"70-79","t":"2022-03-15","v":110},{"g":"70-79","t":"2022-03-18","v":68},{"g":"70-79","t":"2022-03-21","v":136},{"g":"70-79","t":"2022-03-26","v":102},{"g":"70-79","t":"2022-03-29","v":85},{"g":"70-79","t":"2022-04-02","v":93},{"g":"70-79","t":"2022-04-05","v":102},{"g":"70-79","t":"2022-04-07","v":136},{"g":"70-79","t":"2022-04-11","v":68},{"g":"70-79","t":"2022-04-14","v":85},{"g":"70-79","t":"2022-04-18","v":100},{"g":"70-79","t":"2022-04-21","v":144},{"g":"70-79","t":"2022-04-25","v":170},{"g":"70-79","t":"2022-04-30","v":178},{"g":"70-79","t":"2022-05-04","v":237},{"g":"70-79","t":"2022-05-08","v":254},{"g":"70-79","t":"2022-05-11","v":271},{"g":"70-79","t":"2022-05-15","v":305},{"g":"70-79","t":"2022-05-18","v":314},{"g":"70-79","t":"2022-05-22","v":314},{"g":"70-79","t":"2022-05-26","v":288},{"g":"70-79","t":"2022-05-29","v":305},{"g":"70-79","t":"2022-06-02","v":271},{"g":"70-79","t":"2022-06-05","v":254},{"g":"70-79","t":"2022-06-09","v":246},{"g":"70-79","t":"2022-06-12","v":288},{"g":"70-79","t":"2022-06-15","v":339},{"g":"70-79","t":"2022-06-18","v":263},{"g":"70-79","t":"2022-06-21","v":237},{"g":"70-79","t":"2022-06-25","v":246},{"g":"70-79","t":"2022-06-29","v":237},{"g":"70-79","t":"2022-07-02","v":203},{"g":"70-79","t":"2022-07-06","v":153},{"g":"70-79","t":"2022-07-09","v":170},{"g":"70-79","t":"2022-07-13","v":220},{"g":"70-79","t":"2022-07-17","v":288},{"g":"70-79","t":"2022-07-19","v":373},{"g":"70-79","t":"2022-07-21","v":432},{"g":"70-79","t":"2022-07-24","v":415},{"g":"70-79","t":"2022-07-26","v":390},{"g":"70-79","t":"2022-07-27","v":407},{"g":"70-79","t":"2022-07-29","v":339},{"g":"70-79","t":"2022-08-01","v":253},{"g":"70-79","t":"2022-08-03","v":219},{"g":"70-79","t":"2022-08-05","v":202},{"g":"70-79","t":"2022-08-07","v":253},{"g":"70-79","t":"2022-08-09","v":320},{"g":"70-79","t":"2022-08-11","v":370},{"g":"70-79","t":"2022-08-12","v":354},{"g":"70-79","t":"2022-08-14","v":269},{"g":"70-79","t":"2022-08-16","v":202},{"g":"70-79","t":"2022-08-19","v":185},{"g":"70-79","t":"2022-08-22","v":185},{"g":"70-79","t":"2022-08-24","v":219},{"g":"70-79","t":"2022-08-27","v":202},{"g":"70-79","t":"2022-08-31","v":185},{"g":"70-79","t":"2022-09-04","v":168},{"g":"70-79","t":"2022-09-06","v":210},{"g":"70-79","t":"2022-09-09","v":219},{"g":"70-79","t":"2022-09-12","v":244},{"g":"70-79","t":"2022-09-15","v":168},{"g":"70-79","t":"2022-09-18","v":152},{"g":"70-79","t":"2022-09-22","v":185},{"g":"70-79","t":"2022-09-26","v":152},{"g":"70-79","t":"2022-09-29","v":135},{"g":"70-79","t":"2022-10-03","v":185},{"g":"70-79","t":"2022-10-07","v":194},{"g":"70-79","t":"2022-10-10","v":202},{"g":"70-79","t":"2022-10-12","v":210},{"g":"70-79","t":"2022-10-15","v":168},{"g":"70-79","t":"2022-10-18","v":168},{"g":"70-79","t":"2022-10-20","v":219},{"g":"70-79","t":"2022-10-23","v":244},{"g":"70-79","t":"2022-10-26","v":219},{"g":"70-79","t":"2022-10-29","v":135},{"g":"70-79","t":"2022-10-31","v":101},{"g":"70-79","t":"2022-11-03","v":118},{"g":"70-79","t":"2022-11-07","v":101},{"g":"70-79","t":"2022-11-10","v":101},{"g":"70-79","t":"2022-11-13","v":118},{"g":"70-79","t":"2022-11-16","v":152},{"g":"70-79","t":"2022-11-19","v":93},{"g":"70-79","t":"2022-11-22","v":84},{"g":"70-79","t":"2022-11-26","v":84},{"g":"70-79","t":"2022-11-30","v":101},{"g":"70-79","t":"2022-12-03","v":118},{"g":"70-79","t":"2022-12-05","v":118},{"g":"70-79","t":"2022-12-07","v":126},
{"g":"80+","t":"2021-12-01","v":726},{"g":"80+","t":"2021-12-02","v":793},{"g":"80+","t":"2021-12-03","v":873},{"g":"80+","t":"2021-12-04","v":843},{"g":"80+","t":"2021-12-05","v":877},{"g":"80+","t":"2021-12-07","v":810},{"g":"80+","t":"2021-12-08","v":827},{"g":"80+","t":"2021-12-09","v":776},{"g":"80+","t":"2021-12-10","v":709},{"g":"80+","t":"2021-12-11","v":743},{"g":"80+","t":"2021-12-12","v":759},{"g":"80+","t":"2021-12-13","v":620},{"g":"80+","t":"2021-12-14","v":474},{"g":"80+","t":"2021-12-15","v":524},{"g":"80+","t":"2021-12-17","v":541},{"g":"80+","t":"2021-12-18","v":524},{"g":"80+","t":"2021-12-20","v":507},{"g":"80+","t":"2021-12-21","v":474},{"g":"80+","t":"2021-12-22","v":390},{"g":"80+","t":"2021-12-23","v":323},{"g":"80+","t":"2021-12-25","v":289},{"g":"80+","t":"2021-12-26","v":250},{"g":"80+","t":"2021-12-27","v":265},{"g":"80+","t":"2021-12-29","v":272},{"g":"80+","t":"2021-12-30","v":356},{"g":"80+","t":"2021-12-31","v":440},{"g":"80+","t":"2022-01-01","v":490},{"g":"80+","t":"2022-01-02","v":541},{"g":"80+","t":"2022-01-03","v":659},{"g":"80+","t":"2022-01-04","v":659},{"g":"80+","t":"2022-01-05","v":642},{"g":"80+","t":"2022-01-06","v":675},{"g":"80+","t":"2022-01-08","v":726},{"g":"80+","t":"2022-01-09","v":675},{"g":"80+","t":"2022-01-10","v":608},{"g":"80+","t":"2022-01-11","v":743},{"g":"80+","t":"2022-01-12","v":810},{"g":"80+","t":"2022-01-14","v":743},{"g":"80+","t":"2022-01-15","v":810},{"g":"80+","t":"2022-01-16","v":860},{"g":"80+","t":"2022-01-17","v":793},{"g":"80+","t":"2022-01-18","v":827},{"g":"80+","t":"2022-01-19","v":843},{"g":"80+","t":"2022-01-20","v":810},{"g":"80+","t":"2022-01-21","v":743},{"g":"80+","t":"2022-01-23","v":776},{"g":"80+","t":"2022-01-24","v":827},{"g":"80+","t":"2022-01-25","v":843},{"g":"80+","t":"2022-01-26","v":827},{"g":"80+","t":"2022-01-28","v":743},{"g":"80+","t":"2022-01-29","v":642},{"g":"80+","t":"2022-01-30","v":575},{"g":"80+","t":"2022-02-01","v":541},{"g":"80+","t":"2022-02-02","v":591},{"g":"80+","t":"2022-02-03","v":642},{"g":"80+","t":"2022-02-04","v":659},{"g":"80+","t":"2022-02-06","v":608},{"g":"80+","t":"2022-02-07","v":591},{"g":"80+","t":"2022-02-08","v":420},{"g":"80+","t":"2022-02-10","v":440},{"g":"80+","t":"2022-02-12","v":390},{"g":"80+","t":"2022-02-14","v":340},{"g":"80+","t":"2022-02-16","v":370},{"g":"80+","t":"2022-02-18","v":353},{"g":"80+","t":"2022-02-20","v":336},{"g":"80+","t":"2022-02-22","v":353},{"g":"80+","t":"2022-02-24","v":252},{"g":"80+","t":"2022-02-25","v":168},{"g":"80+","t":"2022-02-27","v":135},{"g":"80+","t":"2022-03-01","v":109},{"g":"80+","t":"2022-03-04","v":92},{"g":"80+","t":"2022-03-07","v":101},{"g":"80+","t":"2022-03-11","v":127},{"g":"80+","t":"2022-03-14","v":110},{"g":"80+","t":"2022-03-17","v":102},{"g":"80+","t":"2022-03-20","v":115},{"g":"80+","t":"2022-03-22","v":119},{"g":"80+","t":"2022-03-25","v":140},{"g":"80+","t":"2022-03-27","v":170},{"g":"80+","t":"2022-03-30","v":165},{"g":"80+","t":"2022-04-01","v":178},{"g":"80+","t":"2022-04-04","v":153},{"g":"80+","t":"2022-04-07","v":170},{"g":"80+","t":"2022-04-10","v":186},{"g":"80+","t":"2022-04-11","v":203},{"g":"80+","t":"2022-04-12","v":305},{"g":"80+","t":"2022-04-14","v":339},{"g":"80+","t":"2022-04-16","v":331},{"g":"80+","t":"2022-04-18","v":305},{"g":"80+","t":"2022-04-20","v":271},{"g":"80+","t":"2022-04-21","v":271},{"g":"80+","t":"2022-04-23","v":263},{"g":"80+","t":"2022-04-25","v":339},{"g":"80+","t":"2022-04-27","v":288},{"g":"80+","t":"2022-04-29","v":390},{"g":"80+","t":"2022-05-01","v":381},{"g":"80+","t":"2022-05-02","v":322},{"g":"80+","t":"2022-05-03","v":475},{"g":"80+","t":"2022-05-05","v":602},{"g":"80+","t":"2022-05-07","v":644},{"g":"80+","t":"2022-05-09","v":667},{"g":"80+","t":"2022-05-10","v":627},{"g":"80+","t":"2022-05-12","v":508},{"g":"80+","t":"2022-05-14","v":424},{"g":"80+","t":"2022-05-15","v":475},{"g":"80+","t":"2022-05-17","v":517},{"g":"80+","t":"2022-05-18","v":475},{"g":"80+","t":"2022-05-20","v":508},{"g":"80+","t":"2022-05-21","v":508},{"g":"80+","t":"2022-05-23","v":441},{"g":"80+","t":"2022-05-25","v":390},{"g":"80+","t":"2022-05-26","v":305},{"g":"80+","t":"2022-05-28","v":271},{"g":"80+","t":"2022-05-30","v":288},{"g":"80+","t":"2022-06-01","v":441},{"g":"80+","t":"2022-06-02","v":525},{"g":"80+","t":"2022-06-04","v":525},{"g":"80+","t":"2022-06-06","v":508},{"g":"80+","t":"2022-06-07","v":373},{"g":"80+","t":"2022-06-08","v":237},{"g":"80+","t":"2022-06-11","v":203},{"g":"80+","t":"2022-06-13","v":339},{"g":"80+","t":"2022-06-15","v":271},{"g":"80+","t":"2022-06-17","v":237},{"g":"80+","t":"2022-06-19","v":271},{"g":"80+","t":"2022-06-21","v":237},{"g":"80+","t":"2022-06-22","v":271},{"g":"80+","t":"2022-06-24","v":271},{"g":"80+","t":"2022-06-26","v":237},{"g":"80+","t":"2022-06-29","v":102},{"g":"80+","t":"2022-06-30","v":237},{"g":"80+","t":"2022-07-02","v":203},{"g":"80+","t":"2022-07-05","v":220},{"g":"80+","t":"2022-07-06","v":356},{"g":"80+","t":"2022-07-08","v":441},{"g":"80+","t":"2022-07-09","v":483},{"g":"80+","t":"2022-07-11","v":492},{"g":"80+","t":"2022-07-13","v":441},{"g":"80+","t":"2022-07-15","v":348},{"g":"80+","t":"2022-07-17","v":390},{"g":"80+","t":"2022-07-20","v":492},{"g":"80+","t":"2022-07-22","v":508},{"g":"80+","t":"2022-07-24","v":517},{"g":"80+","t":"2022-07-25","v":576},{"g":"80+","t":"2022-07-27","v":559},{"g":"80+","t":"2022-07-29","v":508},{"g":"80+","t":"2022-07-30","v":497},{"g":"80+","t":"2022-08-01","v":598},{"g":"80+","t":"2022-08-02","v":505},{"g":"80+","t":"2022-08-04","v":404},{"g":"80+","t":"2022-08-06","v":514},{"g":"80+","t":"2022-08-08","v":472},{"g":"80+","t":"2022-08-11","v":556},{"g":"80+","t":"2022-08-12","v":472},{"g":"80+","t":"2022-08-15","v":354},{"g":"80+","t":"2022-08-17","v":337},{"g":"80+","t":"2022-08-20","v":370},{"g":"80+","t":"2022-08-22","v":370},{"g":"80+","t":"2022-08-24","v":253},{"g":"80+","t":"2022-08-25","v":236},{"g":"80+","t":"2022-08-26","v":370},{"g":"80+","t":"2022-08-28","v":387},{"g":"80+","t":"2022-08-29","v":472},{"g":"80+","t":"2022-09-01","v":497},{"g":"80+","t":"2022-09-02","v":455},{"g":"80+","t":"2022-09-04","v":438},{"g":"80+","t":"2022-09-05","v":404},{"g":"80+","t":"2022-09-07","v":413},{"g":"80+","t":"2022-09-09","v":303},{"g":"80+","t":"2022-09-11","v":286},{"g":"80+","t":"2022-09-13","v":354},{"g":"80+","t":"2022-09-14","v":236},{"g":"80+","t":"2022-09-15","v":337},{"g":"80+","t":"2022-09-17","v":396},{"g":"80+","t":"2022-09-19","v":404},{"g":"80+","t":"2022-09-21","v":488},{"g":"80+","t":"2022-09-23","v":505},{"g":"80+","t":"2022-09-25","v":488},{"g":"80+","t":"2022-09-26","v":530},{"g":"80+","t":"2022-09-27","v":438},{"g":"80+","t":"2022-09-29","v":337},{"g":"80+","t":"2022-10-01","v":261},{"g":"80+","t":"2022-10-03","v":354},{"g":"80+","t":"2022-10-05","v":320},{"g":"80+","t":"2022-10-07","v":354},{"g":"80+","t":"2022-10-08","v":354},{"g":"80+","t":"2022-10-10","v":404},{"g":"80+","t":"2022-10-12","v":556},{"g":"80+","t":"2022-10-13","v":573},{"g":"80+","t":"2022-10-14","v":578},{"g":"80+","t":"2022-10-16","v":564},{"g":"80+","t":"2022-10-17","v":421},{"g":"80+","t":"2022-10-18","v":303},{"g":"80+","t":"2022-10-19","v":227},{"g":"80+","t":"2022-10-22","v":202},{"g":"80+","t":"2022-10-24","v":168},{"g":"80+","t":"2022-10-26","v":185},{"g":"80+","t":"2022-10-29","v":168},{"g":"80+","t":"2022-10-30","v":236},{"g":"80+","t":"2022-11-01","v":320},{"g":"80+","t":"2022-11-03","v":438},{"g":"80+","t":"2022-11-05","v":413},{"g":"80+","t":"2022-11-07","v":337},{"g":"80+","t":"2022-11-09","v":303},{"g":"80+","t":"2022-11-10","v":219},{"g":"80+","t":"2022-11-12","v":261},{"g":"80+","t":"2022-11-14","v":320},{"g":"80+","t":"2022-11-16","v":286},{"g":"80+","t":"2022-11-18","v":303},{"g":"80+","t":"2022-11-20","v":320},{"g":"80+","t":"2022-11-22","v":387},{"g":"80+","t":"2022-11-23","v":320},{"g":"80+","t":"2022-11-25","v":261},{"g":"80+","t":"2022-11-27","v":286},{"g":"80+","t":"2022-11-29","v":236},{"g":"80+","t":"2022-12-01","v":236},{"g":"80+","t":"2022-12-03","v":269},{"g":"80+","t":"2022-12-04","v":269},{"g":"80+","t":"2022-12-06","v":286},{"g":"80+","t":"2022-12-07","v":269}
],
"labels":[
{"t":"2022-01-11","v":3140,"lab":"3004"},{"t":"2022-01-21","v":2970,"lab":"2837"},{"t":"2022-01-21","v":2661,"lab":"2535"},{"t":"2022-01-20","v":2350,"lab":"2507"},{"t":"2022-01-20","v":2100,"lab":"1974"},{"t":"2022-01-26","v":1855,"lab":"1734"},{"t":"2022-01-21","v":1526,"lab":"1412"},{"t":"2022-01-19","v":1039,"lab":"927"},{"t":"2022-01-17","v":725,"lab":"873"},
{"t":"2021-12-04","v":1636,"lab":"1514"},{"t":"2021-12-04","v":1475,"lab":"1356"},{"t":"2021-12-12","v":1237,"lab":"1257"},{"t":"2021-12-04","v":1080,"lab":"958"},{"t":"2021-12-03","v":943,"lab":"829"},{"t":"2021-12-03","v":755,"lab":"926"},{"t":"2021-12-02","v":522,"lab":"683"},{"t":"2021-12-02","v":350,"lab":"505"},{"t":"2021-12-19","v":664,"lab":"543"},{"t":"2021-12-26","v":548,"lab":"701"},{"t":"2021-12-26","v":421,"lab":"303"},{"t":"2021-12-25","v":274,"lab":"430"},{"t":"2021-12-28","v":122,"lab":"279"},
{"t":"2022-02-20","v":30,"lab":"62"},{"t":"2022-03-05","v":157,"lab":"45"},{"t":"2022-03-04","v":20,"lab":"90"},{"t":"2022-03-13","v":15,"lab":"44"},{"t":"2022-03-16","v":147,"lab":"35"},{"t":"2022-03-21","v":15,"lab":"22"},{"t":"2022-03-31","v":142,"lab":"19"},{"t":"2022-04-10","v":132,"lab":"27"},{"t":"2022-04-10","v":8,"lab":"66"},
{"t":"2022-05-09","v":781,"lab":"667"},{"t":"2022-05-11","v":502,"lab":"395"},{"t":"2022-05-12","v":294,"lab":"157"},{"t":"2022-05-27","v":345,"lab":"362"},{"t":"2022-06-07","v":117,"lab":"139"},{"t":"2022-07-07","v":233,"lab":"110"},{"t":"2022-07-22","v":548,"lab":"429"},{"t":"2022-07-24","v":299,"lab":"171"},{"t":"2022-08-04","v":248,"lab":"145"},{"t":"2022-08-12","v":385,"lab":"267"},{"t":"2022-09-12","v":243,"lab":"113"},{"t":"2022-09-20","v":56,"lab":"210"},{"t":"2022-10-14","v":689,"lab":"578"},{"t":"2022-10-24","v":259,"lab":"154"},{"t":"2022-11-27","v":122,"lab":"10"},{"t":"2022-12-07","v":157,"lab":"39"},{"t":"2022-12-07","v":20,"lab":"98"}
]
},
"layer":[
{"data":{"name":"series"},
 "mark":{"type":"line","strokeWidth":2.7,"strokeJoin":"round","clip":true},
 "encoding":{
  "x":{"field":"t","type":"temporal",
   "scale":{"type":"utc","domain":[{"year":2021,"month":11,"date":27,"hours":1,"utc":true},{"year":2022,"month":12,"date":8,"hours":18,"utc":true}]},
   "axis":{"values":[{"year":2022,"month":1,"date":1,"utc":true},{"year":2022,"month":3,"date":1,"utc":true},{"year":2022,"month":5,"date":1,"utc":true},{"year":2022,"month":7,"date":1,"utc":true},{"year":2022,"month":9,"date":1,"utc":true},{"year":2022,"month":11,"date":1,"utc":true}],
    "format":"%b %Y","labelFont":"Open Sans","labelFontSize":21,"labelColor":"#605E5C","labelPadding":10,"domain":false,"ticks":false,"grid":false,
    "title":"Date","titleFont":"Open Sans","titleFontSize":25,"titleFontWeight":"normal","titleColor":"#252423","titleY":57,"titleBaseline":"middle"}},
  "y":{"field":"v","type":"quantitative","scale":{"domain":[0,3500],"nice":false,"zero":true},
   "axis":{"values":[0,500,1000,1500,2000,2500,3000,3500],"format":",.0f","labelFont":"Open Sans","labelFontSize":21,"labelColor":"#605E5C","labelPadding":20,"domain":false,"ticks":false,
    "grid":true,"gridColor":"#C8C6C4","gridDash":[2,10],"gridWidth":1.6,
    "title":"Incidence Rate (7-day Average). per day/million","titleFont":"Open Sans","titleFontSize":29.5,"titleFontWeight":"normal","titleColor":"#3B3A39","titleX":-108,"titleY":315,"titleAngle":-90,"titleAlign":"center","titleBaseline":"middle"}},
  "color":{"field":"g","type":"nominal","scale":{"domain":["0-9","10-19","20-29","30-39","40-49","50-59","60-69","70-79","80+"],"range":["#12239E","#E66C37","#6B007B","#E044A7","#744EC2","#D9B300","#D64550","#197278","#1AAB40"]},"legend":null}
 }},
{"data":{"name":"labels"},
 "mark":{"type":"text","font":"Open Sans","fontSize":21,"color":"#666666","align":"center","baseline":"middle"},
 "encoding":{"x":{"field":"t","type":"temporal"},"y":{"field":"v","type":"quantitative"},"text":{"field":"lab","type":"nominal"}}},
{"data":{"values":[{}]},
 "mark":{"type":"text","font":"Liberation Sans","fontSize":31.5,"color":"#C00000","align":"left","baseline":"alphabetic","lineHeight":35,
  "text":["The highest average case rates last week were among","those aged 80+, followed by the 40-49 and 30-39."]},
 "encoding":{"x":{"datum":{"year":2022,"month":6,"date":30,"utc":true},"type":"temporal"},"y":{"datum":1860,"type":"quantitative"}}},
{"data":{"values":[{}]},
 "mark":{"type":"text","font":"Liberation Sans","fontSize":31.5,"color":"#C00000","align":"left","baseline":"alphabetic","lineHeight":35,
  "text":["The decade age groups with the highest week to week","increase in case rates was 30-39, 20-29 and 50-59."]},
 "encoding":{"x":{"datum":{"year":2022,"month":6,"date":30,"utc":true},"type":"temporal"},"y":{"datum":1313,"type":"quantitative"}}}
]
}
